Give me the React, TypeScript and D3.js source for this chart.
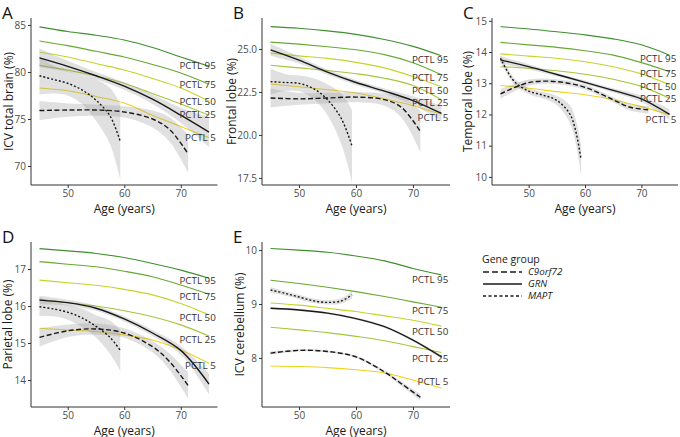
import { useEffect, useRef } from 'react'
import * as d3 from 'd3'

// shared x values
const AGES = [45, 50, 55, 60, 65, 70, 75]
const C9_AGES = [45, 50, 55, 60, 65, 68, 71.3]
const MAPT_AGES = [45, 47.5, 50, 52.5, 55, 57.5, 59.3]
const AGE_TICKS = [50, 60, 70]

const PCTL_NAMES = ['PCTL 95', 'PCTL 75', 'PCTL 50', 'PCTL 25', 'PCTL 5']
const PCTL_COLORS = ['#3f8f2f', '#67a933', '#c5d42a', '#a3c63a', '#f2d21b']
const GENE_GROUPS = ['C9orf72', 'GRN', 'MAPT']
const GENE_DASH = ['5,2.5', null, '2,2']

// A - ICV total brain
const brainTicks = [70, 75, 80, 85]
const brainPctl = [
  [84.8, 84.3, 83.9, 83.4, 82.6, 81.6, 80.6],
  [83.3, 82.8, 82.2, 81.6, 80.8, 79.9, 78.7],
  [82.1, 81.6, 80.9, 80.2, 79.3, 78.3, 76.9],
  [80.7, 80.2, 79.6, 78.8, 77.7, 76.6, 75.4],
  [78.3, 78.0, 77.4, 76.7, 75.4, 74.2, 73.0],
]
const brainLabels = [80.64, 78.7, 76.84, 75.43, 73.01]
const brainGRN = [81.5, 80.6, 79.6, 78.5, 77.1, 75.4, 73.6]
const brainGRNse = [1.0, 0.6, 0.4, 0.4, 0.5, 0.8, 1.6]
const brainC9 = [75.9, 75.95, 75.95, 75.75, 75.0, 73.9, 71.3]
const brainC9se = [1.0, 0.7, 0.6, 0.6, 0.9, 1.3, 2.0]
const brainMAPT = [79.6, 79.2, 78.8, 78.1, 77.0, 75.3, 72.6]
const brainMAPTse = [2.0, 1.5, 1.3, 1.5, 2.2, 3.0, 4.0]

// B - frontal lobe
const frontalTicks = [17.5, 20, 22.5, 25]
const frontalPctl = [
  [26.3, 26.2, 26.05, 25.85, 25.55, 25.15, 24.6],
  [25.4, 25.28, 25.13, 24.95, 24.67, 24.2, 23.5],
  [24.76, 24.6, 24.45, 24.22, 23.9, 23.4, 22.8],
  [24.05, 23.9, 23.75, 23.56, 23.3, 22.87, 22.05],
  [22.96, 22.8, 22.63, 22.44, 22.1, 21.7, 21.2],
]
const frontalLabels = [24.38, 23.35, 22.6, 21.9, 21.0]
const frontalGRN = [24.95, 24.35, 23.65, 23.05, 22.55, 22.0, 21.25]
const frontalGRNse = [0.35, 0.2, 0.15, 0.15, 0.15, 0.25, 0.45]
const frontalC9 = [22.15, 22.1, 22.15, 22.2, 22.05, 21.6, 20.2]
const frontalC9se = [0.55, 0.35, 0.3, 0.3, 0.35, 0.6, 1.2]
const frontalMAPT = [23.1, 23.05, 23.0, 22.7, 22.05, 20.9, 19.35]
const frontalMAPTse = [0.75, 0.5, 0.45, 0.6, 0.9, 1.5, 2.1]

// C - temporal lobe
const temporalTicks = [10, 11, 12, 13, 14, 15]
const temporalPctl = [
  [14.81, 14.74, 14.65, 14.55, 14.42, 14.23, 13.9],
  [14.31, 14.23, 14.15, 14.04, 13.9, 13.66, 13.37],
  [13.94, 13.87, 13.8, 13.69, 13.53, 13.3, 12.95],
  [13.53, 13.48, 13.4, 13.29, 13.13, 12.9, 12.52],
  [12.93, 12.84, 12.73, 12.63, 12.47, 12.25, 11.99],
]
const temporalLabels = [13.8, 13.32, 12.89, 12.52, 11.83]
const temporalGRN = [13.75, 13.53, 13.28, 13.03, 12.77, 12.5, 12.0]
const temporalGRNse = [0.12, 0.08, 0.06, 0.06, 0.07, 0.1, 0.17]
const temporalC9 = [12.66, 13.02, 13.05, 12.87, 12.47, 12.23, 12.15]
const temporalC9se = [0.15, 0.1, 0.08, 0.08, 0.08, 0.1, 0.12]
const temporalMAPT = [13.8, 13.05, 12.75, 12.62, 12.45, 11.95, 10.55]
const temporalMAPTse = [0.12, 0.1, 0.1, 0.1, 0.15, 0.3, 0.5]

// D - parietal lobe
const parietalTicks = [14, 15, 16, 17]
const parietalPctl = [
  [17.55, 17.49, 17.42, 17.31, 17.15, 16.97, 16.75],
  [17.2, 17.13, 17.06, 16.94, 16.79, 16.57, 16.32],
  [16.7, 16.63, 16.56, 16.45, 16.3, 16.07, 15.76],
  [16.18, 16.09, 16.0, 15.87, 15.71, 15.49, 15.19],
  [15.4, 15.35, 15.31, 15.22, 15.08, 14.81, 14.45],
]
const parietalLabels = [16.68, 16.25, 15.7, 15.08, 14.4]
const parietalGRN = [16.16, 16.09, 15.94, 15.65, 15.27, 14.8, 13.89]
const parietalGRNse = [0.12, 0.08, 0.07, 0.07, 0.08, 0.12, 0.28]
const parietalC9 = [15.15, 15.33, 15.38, 15.27, 14.9, 14.5, 13.85]
const parietalC9se = [0.25, 0.17, 0.15, 0.13, 0.15, 0.22, 0.35]
const parietalMAPT = [15.98, 15.92, 15.83, 15.68, 15.45, 15.15, 14.8]
const parietalMAPTse = [0.25, 0.2, 0.2, 0.25, 0.3, 0.45, 0.55]

// E - ICV cerebellum
const cerebTicks = [8, 9, 10]
const cerebPctl = [
  [10.03, 10.0, 9.96, 9.89, 9.8, 9.66, 9.54],
  [9.44, 9.38, 9.31, 9.23, 9.14, 9.04, 8.94],
  [9.02, 8.98, 8.92, 8.86, 8.78, 8.7, 8.59],
  [8.57, 8.52, 8.47, 8.4, 8.32, 8.21, 8.1],
  [7.85, 7.84, 7.82, 7.78, 7.72, 7.59, 7.44],
]
const cerebLabels = [9.46, 8.87, 8.49, 7.99, 7.56]
const cerebGRN = [8.92, 8.89, 8.83, 8.73, 8.58, 8.33, 8.02]
const cerebGRNse = [0.02, 0.02, 0.02, 0.02, 0.02, 0.02, 0.03]
const cerebC9 = [8.09, 8.14, 8.12, 8.02, 7.74, 7.52, 7.27]
const cerebC9se = [0.03, 0.02, 0.02, 0.02, 0.03, 0.04, 0.06]
const cerebMAPT = [9.26, 9.2, 9.13, 9.06, 9.03, 9.06, 9.17]
const cerebMAPTse = [0.05, 0.04, 0.04, 0.04, 0.04, 0.05, 0.07]

const FONT = "'Open Sans', sans-serif"

const panels = [
  { letter: 'A', title: 'ICV total brain (%)', ticks: brainTicks, fmt: d3.format('d'), yDom: [67.98, 85.74],
    left: 31, right: 217.5, top: 18, bottom: 185, titleX: 9,
    pctl: brainPctl, labels: brainLabels, grn: [brainGRN, brainGRNse], c9: [brainC9, brainC9se], mapt: [brainMAPT, brainMAPTse] },
  { letter: 'B', title: 'Frontal lobe (%)', ticks: frontalTicks, fmt: d3.format('.1f'), yDom: [17.09, 26.8],
    left: 262, right: 450, top: 18, bottom: 185, titleX: 232,
    pctl: frontalPctl, labels: frontalLabels, grn: [frontalGRN, frontalGRNse], c9: [frontalC9, frontalC9se], mapt: [frontalMAPT, frontalMAPTse] },
  { letter: 'C', title: 'Temporal lobe (%)', ticks: temporalTicks, fmt: d3.format('d'), yDom: [9.74, 15.09],
    left: 492, right: 678, top: 18, bottom: 185, titleX: 468,
    pctl: temporalPctl, labels: temporalLabels, grn: [temporalGRN, temporalGRNse], c9: [temporalC9, temporalC9se], mapt: [temporalMAPT, temporalMAPTse] },
  { letter: 'D', title: 'Parietal lobe (%)', ticks: parietalTicks, fmt: d3.format('d'), yDom: [13.27, 17.73],
    left: 31, right: 217.5, top: 242, bottom: 407, titleX: 8,
    pctl: parietalPctl, labels: parietalLabels, grn: [parietalGRN, parietalGRNse], c9: [parietalC9, parietalC9se], mapt: [parietalMAPT, parietalMAPTse] },
  { letter: 'E', title: 'ICV cerebellum (%)', ticks: cerebTicks, fmt: d3.format('d'), yDom: [7.09, 10.15],
    left: 262, right: 450, top: 242, bottom: 407, titleX: 240,
    pctl: cerebPctl, labels: cerebLabels, grn: [cerebGRN, cerebGRNse], c9: [cerebC9, cerebC9se], mapt: [cerebMAPT, cerebMAPTse] },
]

function drawPanel(svg: any, p: any) {
  const x = d3.scaleLinear().domain([43.5, 76.5]).range([p.left, p.right])
  const y = d3.scaleLinear().domain(p.yDom).range([p.bottom, p.top])
  const g = svg.append('g')

  // axes
  g.append('g').attr('transform', `translate(${p.left},0)`)
    .call(d3.axisLeft(y).tickValues(p.ticks).tickFormat(p.fmt).tickSize(3).tickPadding(2))
    .call((a: any) => a.select('.domain').attr('d', `M0,${p.top}V${p.bottom}`))
  g.append('g').attr('transform', `translate(0,${p.bottom})`)
    .call(d3.axisBottom(x).tickValues(AGE_TICKS).tickSize(3).tickPadding(2))
    .call((a: any) => a.select('.domain').attr('d', `M${p.left},0H${p.right}`))
  g.selectAll('.domain').attr('stroke', '#333').attr('stroke-width', 1)
  g.selectAll('.tick line').attr('stroke', '#333')
  g.selectAll('.tick text').attr('fill', '#4d4d4d').attr('font-size', 10).attr('font-family', FONT)

  // titles
  g.append('text').attr('x', (p.left + p.right) / 2).attr('y', p.bottom + 27.5)
    .attr('text-anchor', 'middle').attr('font-size', 12).attr('fill', '#1a1a1a').attr('font-family', FONT)
    .text('Age (years)')
  g.append('text').attr('transform', `translate(${p.titleX},${(p.top + p.bottom) / 2}) rotate(-90)`)
    .attr('dy', '0.35em').attr('text-anchor', 'middle').attr('font-size', 12).attr('fill', '#1a1a1a')
    .attr('font-family', FONT).text(p.title)
  g.append('text').attr('x', p.left - 29).attr('y', p.top + 1).attr('font-size', 17).attr('fill', '#111')
    .attr('font-family', FONT).text(p.letter)

  // percentile curves
  const pl = d3.line<number>().x((_, i) => x(AGES[i])).y(d => y(d)).curve(d3.curveMonotoneX)
  p.pctl.forEach((vals: number[], i: number) => {
    g.append('path').attr('d', pl(vals)).attr('fill', 'none')
      .attr('stroke', PCTL_COLORS[i]).attr('stroke-width', 1.1)
  })

  // gene groups: ribbons then lines
  const groups = [
    { ages: C9_AGES, v: p.c9[0], se: p.c9[1], dash: GENE_DASH[0] },
    { ages: AGES, v: p.grn[0], se: p.grn[1], dash: GENE_DASH[1] },
    { ages: MAPT_AGES, v: p.mapt[0], se: p.mapt[1], dash: GENE_DASH[2] },
  ]
  groups.forEach(gr => {
    const area = d3.area<number>().x((_, i) => x(gr.ages[i]))
      .y0((d, i) => y(d - gr.se[i])).y1((d, i) => y(d + gr.se[i]))
      .curve(d3.curveCatmullRom.alpha(0.5))
    g.append('path').attr('d', area(gr.v)).attr('fill', '#999').attr('fill-opacity', 0.3)
  })
  groups.forEach(gr => {
    const line = d3.line<number>().x((_, i) => x(gr.ages[i])).y(d => y(d))
      .curve(d3.curveCatmullRom.alpha(0.5))
    const path = g.append('path').attr('d', line(gr.v)).attr('fill', 'none')
      .attr('stroke', '#1a1a1a').attr('stroke-width', 1.4)
    if (gr.dash) path.attr('stroke-dasharray', gr.dash)
  })

  // percentile labels
  p.labels.forEach((v: number, i: number) => {
    g.append('text').attr('x', x(76.2)).attr('y', y(v)).attr('dy', '0.35em')
      .attr('text-anchor', 'end').attr('font-size', 9.8).attr('fill', '#333')
      .attr('font-family', FONT).text(PCTL_NAMES[i])
  })
}

export default function App() {
  const svgRef = useRef<SVGSVGElement>(null)

  useEffect(() => {
    if (!svgRef.current) return
    const svg = d3.select(svgRef.current)
    svg.selectAll('*').remove()

    panels.forEach(p => drawPanel(svg, p))

    // legend
    const leg = svg.append('g').attr('transform', 'translate(482,0)')
    leg.append('text').attr('x', 0).attr('y', 263).attr('font-size', 10.5).attr('fill', '#1a1a1a')
      .attr('font-family', FONT).text('Gene group')
    GENE_GROUPS.forEach((name, i) => {
      const yy = 272 + i * 12
      const ln = leg.append('line').attr('x1', 1).attr('x2', 40).attr('y1', yy).attr('y2', yy)
        .attr('stroke', '#1a1a1a').attr('stroke-width', 1.3)
      if (GENE_DASH[i]) ln.attr('stroke-dasharray', i === 0 ? '6,3' : '3,2.5')
      leg.append('text').attr('x', 46).attr('y', yy).attr('dy', '0.35em').attr('font-size', 9.8)
        .attr('font-style', 'italic').attr('fill', '#1a1a1a').attr('font-family', FONT).text(name)
    })
  }, [])

  return (
    <svg ref={svgRef} width={680} height={437}
      style={{ position: 'absolute', left: 0, top: 0, background: '#fff' }} />
  )
}
